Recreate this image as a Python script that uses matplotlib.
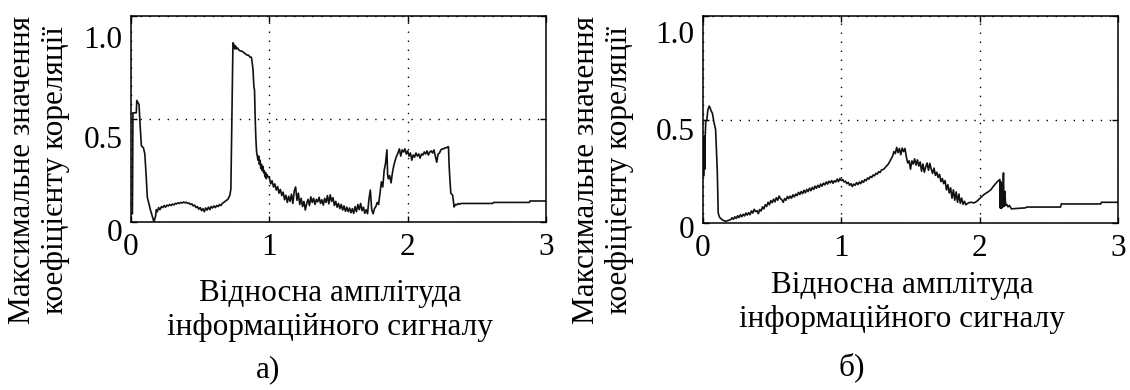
import matplotlib
matplotlib.use('Agg')
import matplotlib.pyplot as plt
from matplotlib.transforms import ScaledTranslation

plt.rcParams['font.family'] = ['Liberation Serif', 'DejaVu Serif']

# Panel а): maximum correlation coefficient vs relative signal amplitude
amp_a = [
    0.010, 0.011, 0.014, 0.038, 0.042, 0.050, 0.058, 0.066, 0.075, 0.090,
    0.100, 0.110, 0.118, 0.140, 0.166, 0.178, 0.183, 0.190, 0.200, 0.210,
    0.220, 0.230, 0.240, 0.250, 0.260, 0.270, 0.280, 0.290, 0.300, 0.310,
    0.320, 0.330, 0.340, 0.350, 0.360, 0.370, 0.380, 0.390, 0.400, 0.410,
    0.420, 0.430, 0.440, 0.450, 0.460, 0.470, 0.480, 0.490, 0.500, 0.510,
    0.520, 0.530, 0.540, 0.550, 0.560, 0.570, 0.580, 0.590, 0.600, 0.610,
    0.620, 0.630, 0.640, 0.650, 0.660, 0.670, 0.680, 0.700, 0.715, 0.722,
    0.730, 0.737, 0.745, 0.750, 0.755, 0.762, 0.770, 0.780, 0.790, 0.800,
    0.810, 0.820, 0.830, 0.840, 0.850, 0.860, 0.870, 0.875, 0.882, 0.888,
    0.893, 0.898, 0.903, 0.908, 0.913, 0.918, 0.923, 0.928, 0.933, 0.938,
    0.943, 0.948, 0.953, 0.958, 0.963, 0.968, 0.973, 0.978, 0.983, 0.990,
    1.00, 1.01, 1.02, 1.03, 1.04, 1.05, 1.06, 1.07, 1.08, 1.09,
    1.10, 1.11, 1.12, 1.13, 1.14, 1.15, 1.16, 1.17, 1.18, 1.19,
    1.20, 1.21, 1.22, 1.23, 1.24, 1.25, 1.26, 1.27, 1.28, 1.29,
    1.30, 1.31, 1.32, 1.33, 1.34, 1.35, 1.36, 1.37, 1.38, 1.39,
    1.40, 1.41, 1.42, 1.43, 1.44, 1.45, 1.46, 1.47, 1.48, 1.49,
    1.50, 1.51, 1.52, 1.53, 1.54, 1.55, 1.56, 1.57, 1.58, 1.59,
    1.60, 1.61, 1.62, 1.63, 1.64, 1.65, 1.66, 1.67, 1.68, 1.69,
    1.70, 1.71, 1.72, 1.73, 1.74, 1.75, 1.76, 1.77, 1.78, 1.79,
    1.80, 1.81, 1.82, 1.83, 1.84, 1.85, 1.855, 1.86, 1.87, 1.88,
    1.89, 1.90, 1.91, 1.92, 1.93, 1.94, 1.95, 1.96, 1.97, 1.98,
    1.99, 2.00, 2.01, 2.02, 2.03, 2.04, 2.05, 2.06, 2.07, 2.08,
    2.09, 2.10, 2.11, 2.12, 2.13, 2.14, 2.15, 2.16, 2.17, 2.18,
    2.19, 2.20, 2.21, 2.22, 2.23, 2.24, 2.25, 2.26, 2.27, 2.28,
    2.29, 2.295, 2.300, 2.305, 2.312, 2.325, 2.336, 2.345, 2.355, 2.365,
    2.375, 2.385, 2.615, 2.620, 2.880, 2.885, 3.000,
]
corr_a = [
    0.040, 0.120, 0.530, 0.530, 0.590, 0.580, 0.570, 0.470, 0.370, 0.360,
    0.330, 0.220, 0.120, 0.060, 0.000, 0.030, 0.060, 0.050, 0.070, 0.060,
    0.075, 0.070, 0.080, 0.072, 0.082, 0.078, 0.085, 0.080, 0.087, 0.083,
    0.090, 0.088, 0.093, 0.090, 0.095, 0.092, 0.097, 0.093, 0.096, 0.090,
    0.092, 0.085, 0.088, 0.078, 0.082, 0.070, 0.075, 0.062, 0.070, 0.055,
    0.065, 0.050, 0.068, 0.058, 0.072, 0.060, 0.075, 0.068, 0.078, 0.070,
    0.080, 0.075, 0.085, 0.080, 0.090, 0.095, 0.100, 0.110, 0.130, 0.160,
    0.520, 0.870, 0.860, 0.840, 0.855, 0.840, 0.845, 0.835, 0.830, 0.830,
    0.825, 0.820, 0.815, 0.810, 0.810, 0.800, 0.800, 0.780, 0.740, 0.660,
    0.640, 0.500, 0.400, 0.340, 0.320, 0.300, 0.320, 0.280, 0.300, 0.260,
    0.280, 0.250, 0.270, 0.240, 0.250, 0.220, 0.240, 0.210, 0.230, 0.220,
    0.215, 0.185, 0.200, 0.170, 0.185, 0.155, 0.172, 0.140, 0.158, 0.128,
    0.145, 0.108, 0.130, 0.095, 0.125, 0.100, 0.135, 0.090, 0.150, 0.170,
    0.105, 0.140, 0.085, 0.115, 0.075, 0.100, 0.058, 0.090, 0.110, 0.080,
    0.122, 0.095, 0.115, 0.085, 0.110, 0.098, 0.120, 0.090, 0.108, 0.082,
    0.115, 0.095, 0.128, 0.088, 0.132, 0.100, 0.118, 0.080, 0.100, 0.072,
    0.090, 0.065, 0.085, 0.058, 0.078, 0.052, 0.072, 0.050, 0.068, 0.045,
    0.065, 0.042, 0.075, 0.050, 0.085, 0.060, 0.090, 0.055, 0.072, 0.042,
    0.060, 0.040, 0.110, 0.155, 0.060, 0.040, 0.065, 0.075, 0.095, 0.085,
    0.140, 0.195, 0.170, 0.250, 0.285, 0.350, 0.230, 0.210, 0.225, 0.190,
    0.240, 0.275, 0.300, 0.320, 0.335, 0.355, 0.320, 0.350, 0.340, 0.355,
    0.330, 0.345, 0.320, 0.335, 0.300, 0.325, 0.315, 0.335, 0.320, 0.330,
    0.310, 0.330, 0.325, 0.340, 0.330, 0.345, 0.325, 0.340, 0.345, 0.335,
    0.350, 0.320, 0.290, 0.330, 0.335, 0.350, 0.355, 0.355, 0.360, 0.360,
    0.365, 0.365, 0.270, 0.210, 0.140, 0.130, 0.073, 0.085, 0.083, 0.090,
    0.086, 0.090, 0.090, 0.095, 0.095, 0.102, 0.102,
]

# Panel б)
amp_b = [
    0.007, 0.010, 0.013, 0.016, 0.020, 0.028, 0.035, 0.045, 0.052, 0.060,
    0.068, 0.080, 0.091, 0.097, 0.103, 0.110, 0.118, 0.125, 0.140, 0.163,
    0.180, 0.200, 0.21, 0.22, 0.23, 0.24, 0.25, 0.26, 0.27, 0.28,
    0.29, 0.30, 0.31, 0.32, 0.33, 0.34, 0.35, 0.36, 0.37, 0.38,
    0.39, 0.40, 0.41, 0.42, 0.43, 0.44, 0.45, 0.46, 0.47, 0.48,
    0.49, 0.50, 0.51, 0.52, 0.53, 0.54, 0.55, 0.56, 0.57, 0.58,
    0.59, 0.60, 0.61, 0.62, 0.63, 0.64, 0.65, 0.66, 0.67, 0.68,
    0.69, 0.70, 0.71, 0.72, 0.73, 0.74, 0.75, 0.76, 0.77, 0.78,
    0.79, 0.80, 0.81, 0.82, 0.83, 0.84, 0.85, 0.86, 0.87, 0.88,
    0.89, 0.90, 0.91, 0.92, 0.93, 0.94, 0.95, 0.96, 0.97, 0.98,
    0.99, 1.00, 1.01, 1.02, 1.03, 1.04, 1.05, 1.06, 1.07, 1.08,
    1.09, 1.10, 1.11, 1.12, 1.13, 1.14, 1.15, 1.16, 1.17, 1.18,
    1.19, 1.20, 1.21, 1.22, 1.23, 1.24, 1.25, 1.26, 1.27, 1.28,
    1.29, 1.30, 1.31, 1.32, 1.34, 1.36, 1.37, 1.38, 1.39, 1.40,
    1.41, 1.42, 1.43, 1.44, 1.45, 1.46, 1.47, 1.48, 1.49, 1.50,
    1.51, 1.52, 1.53, 1.54, 1.55, 1.56, 1.57, 1.58, 1.59, 1.60,
    1.61, 1.62, 1.63, 1.64, 1.65, 1.66, 1.67, 1.68, 1.69, 1.70,
    1.71, 1.72, 1.73, 1.74, 1.75, 1.76, 1.77, 1.78, 1.79, 1.80,
    1.81, 1.82, 1.83, 1.84, 1.85, 1.86, 1.87, 1.88, 1.89, 1.90,
    1.92, 1.94, 1.96, 1.98, 2.00, 2.03, 2.06, 2.08, 2.10, 2.128,
    2.146, 2.148, 2.152, 2.156, 2.160, 2.165, 2.172, 2.176, 2.182, 2.188,
    2.195, 2.205, 2.215, 2.230, 2.260, 2.330, 2.340, 2.585, 2.590, 2.875,
    2.880, 3.000,
]
corr_b = [
    0.230, 0.420, 0.260, 0.420, 0.490, 0.500, 0.545, 0.565, 0.555, 0.540,
    0.530, 0.484, 0.452, 0.350, 0.258, 0.048, 0.030, 0.024, 0.015, 0.008,
    0.012, 0.016, 0.025, 0.018, 0.030, 0.022, 0.035, 0.026, 0.040, 0.030,
    0.042, 0.034, 0.048, 0.038, 0.050, 0.040, 0.058, 0.048, 0.066, 0.055,
    0.060, 0.045, 0.065, 0.058, 0.078, 0.068, 0.088, 0.080, 0.100, 0.088,
    0.108, 0.098, 0.115, 0.102, 0.122, 0.110, 0.130, 0.118, 0.112, 0.100,
    0.118, 0.110, 0.128, 0.118, 0.130, 0.120, 0.136, 0.126, 0.140, 0.132,
    0.148, 0.138, 0.152, 0.142, 0.158, 0.146, 0.162, 0.152, 0.168, 0.156,
    0.172, 0.162, 0.178, 0.168, 0.182, 0.172, 0.188, 0.178, 0.192, 0.184,
    0.198, 0.188, 0.202, 0.194, 0.205, 0.192, 0.204, 0.198, 0.212, 0.200,
    0.215, 0.205, 0.210, 0.198, 0.202, 0.190, 0.196, 0.182, 0.190, 0.176,
    0.188, 0.182, 0.195, 0.186, 0.198, 0.190, 0.204, 0.196, 0.210, 0.204,
    0.218, 0.212, 0.225, 0.220, 0.232, 0.228, 0.240, 0.236, 0.248, 0.244,
    0.256, 0.258, 0.262, 0.270, 0.285, 0.310, 0.322, 0.345, 0.335, 0.365,
    0.340, 0.360, 0.330, 0.362, 0.345, 0.360, 0.320, 0.290, 0.300, 0.260,
    0.300, 0.285, 0.310, 0.280, 0.305, 0.275, 0.295, 0.250, 0.285, 0.245,
    0.270, 0.290, 0.255, 0.288, 0.260, 0.240, 0.265, 0.230, 0.245, 0.220,
    0.235, 0.200, 0.215, 0.190, 0.205, 0.160, 0.185, 0.145, 0.170, 0.120,
    0.160, 0.110, 0.150, 0.100, 0.140, 0.095, 0.120, 0.090, 0.105, 0.088,
    0.098, 0.100, 0.097, 0.105, 0.118, 0.137, 0.150, 0.160, 0.178, 0.200,
    0.210, 0.073, 0.200, 0.070, 0.190, 0.075, 0.242, 0.080, 0.153, 0.085,
    0.090, 0.078, 0.085, 0.068, 0.070, 0.073, 0.077, 0.077, 0.092, 0.092,
    0.100, 0.100,
]

x_ticks = [0, 1, 2, 3]
x_tick_labels = ['0', '1', '2', '3']
y_ticks = [0, 0.5, 1.0]
y_tick_labels = ['0', '0.5', '1.0']

ylabel_lines = ['Максимальне значення', 'коефіцієнту кореляції']
xlabel_lines = ['Відносна амплітуда', 'інформаційного сигналу']
panel_names = ['а)', 'б)']

W, H = 1130, 390
FS = 22.5
fig = plt.figure(figsize=(W / 100, H / 100), dpi=100)


def px_rect(left, top, right, bottom):
    return [left / W, 1 - bottom / H, (right - left) / W, (bottom - top) / H]


def fx(x):
    return x / W


def fy(y):
    return 1 - y / H


panels = [
    dict(amp=amp_a, corr=corr_a, rect=(131, 16, 546, 222),
         ytick_shift=[8, 18, 21], ylab_x=[23, 55], ylab_y=170,
         xlab_x=330, xlab_y=[293, 328], name_xy=(268, 370)),
    dict(amp=amp_b, corr=corr_b, rect=(703, 16, 1118, 223),
         ytick_shift=[4, 10, 16], ylab_x=[587, 620], ylab_y=170,
         xlab_x=902, xlab_y=[285, 320], name_xy=(852, 367)),
]

for p, name in zip(panels, panel_names):
    assert len(p['amp']) == len(p['corr'])
    ax = fig.add_axes(px_rect(*p['rect']))
    ax.plot(p['amp'], p['corr'], color='#111111', linewidth=1.2)

    ax.set_xlim(0, 3)
    ax.set_ylim(0, 1.0)
    ax.set_xticks(x_ticks, x_tick_labels)
    ax.set_yticks(y_ticks, y_tick_labels)
    ax.grid(True, color='black', linestyle=(0, (1, 5.5)), linewidth=1.0)
    ax.tick_params(direction='in', length=4, width=1, top=True, right=True,
                   labelsize=FS, colors='black')
    ax.tick_params(axis='x', pad=8)
    ax.tick_params(axis='y', pad=6)
    for sp in ax.spines.values():
        sp.set_linewidth(1.1)

    # the y tick labels sit a little below their ticks
    for lab, dy in zip(ax.get_yticklabels(), p['ytick_shift']):
        lab.set_transform(lab.get_transform() +
                          ScaledTranslation(0, -dy / 100, fig.dpi_scale_trans))

    for x, line in zip(p['ylab_x'], ylabel_lines):
        fig.text(fx(x), fy(p['ylab_y']), line, rotation=90, fontsize=FS,
                 ha='center', va='center')
    for y, line in zip(p['xlab_y'], xlabel_lines):
        fig.text(fx(p['xlab_x']), fy(y), line, fontsize=FS,
                 ha='center', va='center')
    fig.text(fx(p['name_xy'][0]), fy(p['name_xy'][1]), name, fontsize=FS,
             ha='center', va='center')

fig.savefig('out.png', dpi=100)
